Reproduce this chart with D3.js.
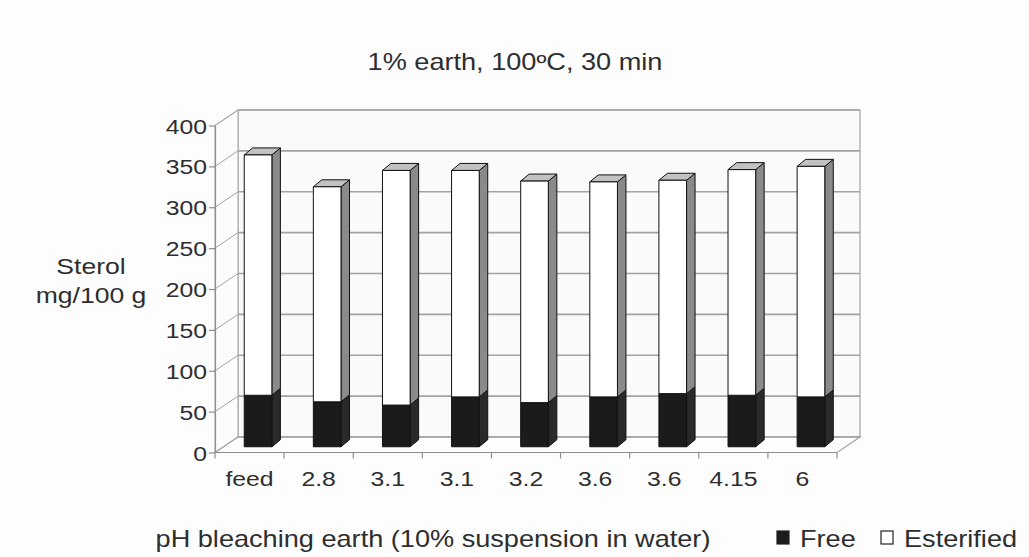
<!DOCTYPE html>
<html>
<head>
<meta charset="utf-8">
<script src="https://cdn.jsdelivr.net/npm/d3@7"></script>
<style>
  html, body { margin: 0; padding: 0; background: #fdfdfd; }
  svg { display: block; }
  text { font-family: "Liberation Sans", Arial, sans-serif; fill: #2e2e2e; }
</style>
</head>
<body>
<svg id="chart" width="1029" height="557"></svg>
<script>
// Sterol content after bleaching, split into free and esterified sterols
const categories = ["feed", "2.8", "3.1", "3.1", "3.2", "3.6", "3.6", "4.15", "6"];
const freeSterol = [63, 55, 51, 61, 54, 61, 65, 63, 61];
const esterifiedSterol = [294, 263, 287, 277, 271, 263, 261, 276, 282];
const yTicks = [0, 50, 100, 150, 200, 250, 300, 350, 400];
const seriesNames = ["Free", "Esterified"];

const svg = d3.select("#chart");
const SX = 1.18; // horizontal text stretch

// front plane of the 3-D plot box
const x = d3.scaleBand().domain(d3.range(categories.length)).range([215, 837]).paddingInner(0).paddingOuter(0);
const y = d3.scaleLinear().domain([0, 400]).range([452.5, 125.5]);

// depth of the box (front plane -> back wall)
const DX = 23, DY = -15.5;
// bars sit part way into the box and have their own shallow depth
const FA = 0.37;
const BDX = 8.5, BDY = -7;
const barW = x.bandwidth() * 0.4;

const gridColor = "#a3a3a3";
const yTop = y(400), yBot = y(0);
const xL = x.range()[0], xR = x.range()[1];

// back wall
svg.append("rect")
  .attr("x", xL + DX).attr("y", yTop + DY)
  .attr("width", xR - xL).attr("height", yBot - yTop)
  .attr("fill", "#fafafa").attr("stroke", gridColor).attr("stroke-width", 1.2);

// left side wall
svg.append("path")
  .attr("d", `M${xL},${yTop}L${xL + DX},${yTop + DY}L${xL + DX},${yBot + DY}L${xL},${yBot}Z`)
  .attr("fill", "#fcfcfc").attr("stroke", gridColor).attr("stroke-width", 1);

// floor
svg.append("path")
  .attr("d", `M${xL},${yBot}L${xL + DX},${yBot + DY}L${xR + DX},${yBot + DY}L${xR},${yBot}Z`)
  .attr("fill", "#fdfdfd").attr("stroke", gridColor).attr("stroke-width", 1.2);

// gridlines on back wall + side wall
const grid = svg.append("g");
yTicks.forEach(v => {
  grid.append("line")
    .attr("x1", xL + DX).attr("x2", xR + DX)
    .attr("y1", y(v) + DY).attr("y2", y(v) + DY)
    .attr("stroke", gridColor).attr("stroke-width", 1.6);
  grid.append("line")
    .attr("x1", xL).attr("x2", xL + DX)
    .attr("y1", y(v)).attr("y2", y(v) + DY)
    .attr("stroke", gridColor).attr("stroke-width", 1);
});

// y axis
const yAxis = svg.append("g")
  .attr("transform", `translate(${xL},0)`)
  .call(d3.axisLeft(y).tickValues(yTicks).tickSize(6).tickSizeOuter(0));
yAxis.select(".domain").attr("stroke", "#8e8e8e").attr("stroke-width", 1.2);
yAxis.selectAll(".tick line").attr("stroke", "#8e8e8e").attr("stroke-width", 1.2);
yAxis.selectAll(".tick text")
  .attr("x", 0).attr("dy", "0.36em")
  .attr("transform", `translate(-8,0) scale(${SX},1)`)
  .style("font-size", "21px").style("font-family", "Liberation Sans, Arial, sans-serif")
  .attr("fill", "#333");

// x axis: front edge, boundary ticks and category labels
svg.append("line")
  .attr("x1", xL).attr("x2", xR).attr("y1", yBot).attr("y2", yBot)
  .attr("stroke", "#8e8e8e").attr("stroke-width", 1.2);
d3.range(categories.length + 1).forEach(i => {
  const xx = xL + i * x.step();
  svg.append("line")
    .attr("x1", xx).attr("x2", xx).attr("y1", yBot).attr("y2", yBot + 6)
    .attr("stroke", "#8e8e8e").attr("stroke-width", 1.2);
});
const xAxis = svg.append("g")
  .attr("transform", `translate(0,${yBot})`)
  .call(d3.axisBottom(x).tickSize(0).tickFormat(i => categories[i]));
xAxis.select(".domain").remove();
xAxis.selectAll(".tick text")
  .attr("y", 34).attr("dy", 0)
  .attr("transform", `scale(${SX},1)`)
  .style("font-size", "21px").style("font-family", "Liberation Sans, Arial, sans-serif")
  .attr("fill", "#333");

// stacked 3-D bars
const bars = svg.append("g");
const ox = FA * DX, oy = FA * DY;
function segment(i, v0, v1, front, side, top, drawTop) {
  const x0 = x(i) + (x.bandwidth() - barW) / 2 + ox;
  const x1 = x0 + barW;
  const yt = y(v1) + oy, yb = y(v0) + oy;
  const g = bars.append("g").attr("stroke", "#111").attr("stroke-width", 1).attr("stroke-linejoin", "round");
  g.append("path")
    .attr("d", `M${x1},${yt}L${x1 + BDX},${yt + BDY}L${x1 + BDX},${yb + BDY}L${x1},${yb}Z`)
    .attr("fill", side);
  if (drawTop) {
    g.append("path")
      .attr("d", `M${x0},${yt}L${x0 + BDX},${yt + BDY}L${x1 + BDX},${yt + BDY}L${x1},${yt}Z`)
      .attr("fill", top);
  }
  g.append("rect")
    .attr("x", x0).attr("y", yt).attr("width", barW).attr("height", yb - yt)
    .attr("fill", front);
}
categories.forEach((c, i) => {
  segment(i, 0, freeSterol[i], "#1b1b1b", "#2a2a2a", "#333", false);
  segment(i, freeSterol[i], freeSterol[i] + esterifiedSterol[i], "#ffffff", "#8a8a8a", "#c2c2c2", true);
});

// title
svg.append("text")
  .attr("transform", `translate(515,70) scale(${SX},1)`)
  .attr("text-anchor", "middle").style("font-size", "23px")
  .text("1% earth, 100ºC, 30 min");

// y axis title, two lines
[["Sterol", 274], ["mg/100 g", 303]].forEach(([t, by]) => {
  svg.append("text")
    .attr("transform", `translate(91,${by}) scale(${SX},1)`)
    .attr("text-anchor", "middle").style("font-size", "22.5px")
    .text(t);
});

// x axis title
svg.append("text")
  .attr("transform", `translate(433,547) scale(${SX},1)`)
  .attr("text-anchor", "middle").style("font-size", "23px")
  .text("pH bleaching earth (10% suspension in water)");

// legend
const legend = svg.append("g");
const legendX = [777, 881];
const legendFill = ["#1b1b1b", "#ffffff"];
seriesNames.forEach((name, k) => {
  legend.append("rect")
    .attr("x", legendX[k]).attr("y", 531).attr("width", 12).attr("height", 13)
    .attr("fill", legendFill[k]).attr("stroke", "#222").attr("stroke-width", 1.2);
  legend.append("text")
    .attr("transform", `translate(${legendX[k] + 23},547) scale(${SX},1)`)
    .style("font-size", "23px")
    .text(name);
});
</script>
</body>
</html>
